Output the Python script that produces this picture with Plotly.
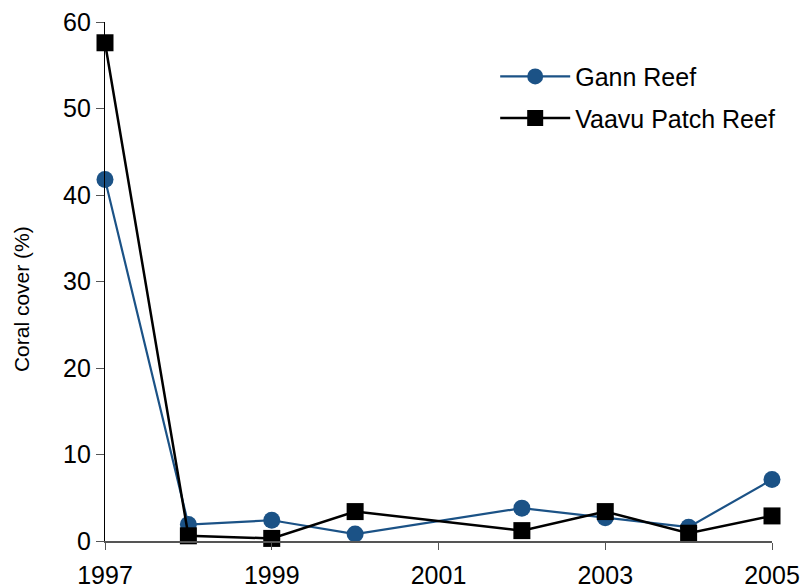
import plotly.graph_objects as go

years_gann = [1997, 1998, 1999, 2000, 2002, 2003, 2004, 2005]
gann = [41.8, 1.9, 2.4, 0.8, 3.8, 2.7, 1.6, 7.1]
years_vaavu = [1997, 1998, 1999, 2000, 2002, 2003, 2004, 2005]
vaavu = [57.6, 0.6, 0.3, 3.4, 1.2, 3.4, 0.9, 2.9]
x_ticks = [1997, 1999, 2001, 2003, 2005]
y_ticks = [0, 10, 20, 30, 40, 50, 60]

BLUE = "#1b5286"

fig = go.Figure()
fig.add_trace(go.Scatter(x=years_gann, y=gann, mode="lines+markers", name="Gann Reef",
                         legendgroup="g",
                         line=dict(color=BLUE, width=2.2),
                         marker=dict(symbol="circle", size=17, color=BLUE),
                         cliponaxis=False))
fig.add_trace(go.Scatter(x=years_vaavu, y=vaavu, mode="lines+markers", name="Vaavu Patch Reef",
                         legendgroup="v",
                         line=dict(color="black", width=2.5),
                         marker=dict(symbol="square", size=17, color="black"),
                         cliponaxis=False))

font = "Liberation Sans, Arial, Helvetica, sans-serif"
fig.update_layout(
    width=801, height=586,
    margin=dict(l=105, r=29, t=22, b=45),
    plot_bgcolor="white", paper_bgcolor="white",
    font=dict(family=font, size=25, color="black"),
    showlegend=True,
    legend=dict(x=0.585, y=0.939, xanchor="left", yanchor="top",
                font=dict(size=25), bgcolor="rgba(0,0,0,0)", itemwidth=70,
                traceorder="grouped", tracegroupgap=6),
    xaxis=dict(range=[1997, 2005], tickvals=x_ticks, ticktext=[str(v) for v in x_ticks],
               showgrid=False, zeroline=False, showline=True, linecolor="#555555", linewidth=1.5,
               ticks="outside", ticklen=7, tickcolor="#555555", tickwidth=1.2,
               tickfont=dict(size=25), automargin=False, ticklabelstandoff=4),
    yaxis=dict(range=[0, 60], tickvals=y_ticks, showgrid=False, zeroline=False,
               showline=True, linecolor="black", linewidth=1.2,
               ticks="outside", ticklen=8, tickcolor="#555555", tickwidth=1.2,
               tickfont=dict(size=25), automargin=False),
    annotations=[dict(text="Coral cover (%)", textangle=-90, xref="paper", yref="paper",
                      x=-0.126, y=0.466, xanchor="center", yanchor="middle",
                      showarrow=False, font=dict(size=21))],
)

fig.write_html("out.html", config={"displayModeBar": False},
               post_script="document.body.style.margin='0';")
